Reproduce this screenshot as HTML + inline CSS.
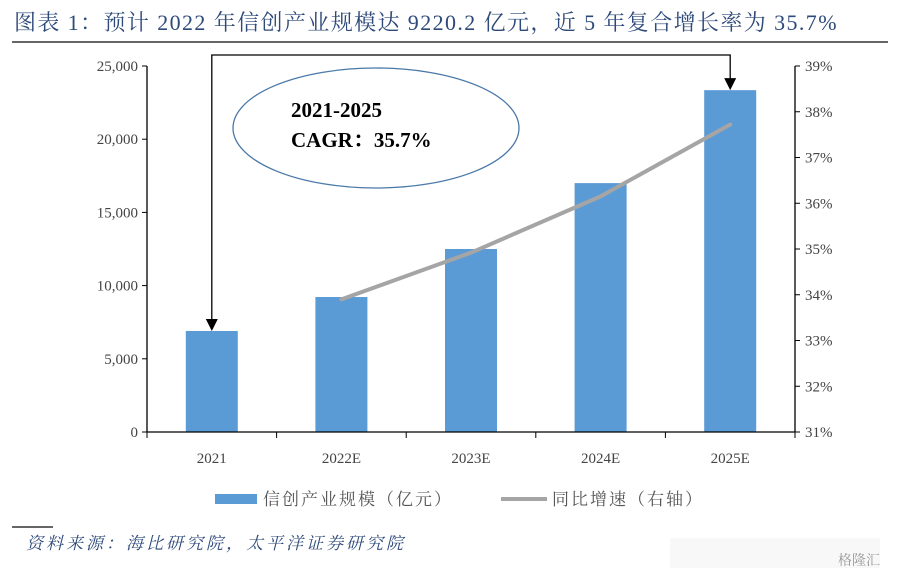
<!DOCTYPE html>
<html><head><meta charset="utf-8"><style>
body{margin:0;background:#fff;width:911px;height:578px;overflow:hidden}
svg text{font-family:"Liberation Serif","Noto Serif CJK SC",serif}
</style></head><body>
<svg width="911" height="578" xmlns="http://www.w3.org/2000/svg" id="chart">
<text x="14" y="30" font-size="22" letter-spacing="1.4" fill="#2e4a7a">图表 1：预计 2022 年信创产业规模达 9220.2 亿元，近 5 年复合增长率为 35.7%</text>
<line x1="12" y1="42" x2="888" y2="42" stroke="#333" stroke-width="1.5"/>
<g id="plot"></g>
<g>
<rect x="215" y="494" width="42" height="10" fill="#5b9bd5"/>
<text x="263" y="505" font-size="17" letter-spacing="2" fill="#555">信创产业规模（亿元）</text>
<line x1="501" y1="499" x2="547" y2="499" stroke="#a5a5a5" stroke-width="4"/>
<text x="552" y="505" font-size="17" letter-spacing="2" fill="#555">同比增速（右轴）</text>
</g>
<line x1="12" y1="527" x2="53" y2="527" stroke="#333" stroke-width="1.5"/>
<text x="26" y="549" font-size="17" letter-spacing="3" font-style="italic" fill="#2e4a7a">资料来源：海比研究院，太平洋证券研究院</text>
<rect x="670" y="538" width="210" height="30" fill="#f4f4f4" opacity="0.6"/>
<text x="838" y="565" font-size="14" fill="#999">格隆汇</text>
</svg>
<script>
const categories=["2021","2022E","2023E","2024E","2025E"];
const scaleValues=[6900,9220,12500,17000,23350];
const growthValues=[null,33.9,34.92,36.15,37.72];
const leftTicks=[0,5000,10000,15000,20000,25000];
const leftTickLabels=["0","5,000","10,000","15,000","20,000","25,000"];
const rightTicks=[31,32,33,34,35,36,37,38,39];
const NS="http://www.w3.org/2000/svg";
const g=document.getElementById('plot');
const X0=147,X1=795,Y0=432,Y1=66;
const yL=v=>Y0-(v/25000)*(Y0-Y1);
const yR=v=>Y0-((v-31)/8)*(Y0-Y1);
const band=(X1-X0)/categories.length;
const xC=i=>X0+band*(i+0.5);
function mk(t,a){const e=document.createElementNS(NS,t);for(const k in a)e.setAttribute(k,a[k]);g.appendChild(e);return e;}
scaleValues.forEach((v,i)=>{const e=mk('rect',{x:xC(i)-26,y:yL(v),width:52,height:Y0-yL(v),fill:'#5b9bd5'});

});
let e=mk('line',{x1:X0,y1:Y1,x2:X0,y2:Y0,stroke:'#000','stroke-width':1.3});


e=mk('line',{x1:X1,y1:Y1,x2:X1,y2:Y0,stroke:'#000','stroke-width':1.3});


e=mk('line',{x1:X0,y1:Y0,x2:X1,y2:Y0,stroke:'#000','stroke-width':1.3});


leftTicks.forEach((v,i)=>{mk('line',{x1:X0-5,y1:yL(v),x2:X0,y2:yL(v),stroke:'#000'});
const t=mk('text',{x:X0-9,y:yL(v)+5,'font-size':15,fill:'#444','text-anchor':'end'});t.textContent=leftTickLabels[i];

});
rightTicks.forEach(v=>{mk('line',{x1:X1,y1:yR(v),x2:X1+5,y2:yR(v),stroke:'#000'});
const t=mk('text',{x:X1+10,y:yR(v)+5,'font-size':15,fill:'#444'});t.textContent=v+'%';

});
for(let i=0;i<=categories.length;i++)mk('line',{x1:X0+band*i,y1:Y0,x2:X0+band*i,y2:Y0+6,stroke:'#000'});
categories.forEach((c,i)=>{const t=mk('text',{x:xC(i),y:Y0+31,'font-size':15,fill:'#444','text-anchor':'middle'});t.textContent=c;

});
const pts=growthValues.map((v,i)=>v==null?null:xC(i)+','+yR(v)).filter(p=>p);
e=mk('polyline',{points:pts.join(' '),fill:'none',stroke:'#a5a5a5','stroke-width':4,'stroke-linecap':'round','stroke-linejoin':'round'});


const xa=xC(0),xb=xC(4);
e=mk('polyline',{points:`${xa},${yL(scaleValues[0])-8} ${xa},55 ${xb},55 ${xb},${yL(scaleValues[4])-8}`,fill:'none',stroke:'#000','stroke-width':1.3});


[[xa,yL(scaleValues[0])],[xb,yL(scaleValues[4])]].forEach(([x,y])=>{mk('polygon',{points:`${x-6},${y-12} ${x+6},${y-12} ${x},${y}`,fill:'#000'});});
e=mk('ellipse',{cx:376,cy:128,rx:143,ry:60,fill:'none',stroke:'#4a78a8','stroke-width':1.3});


let t=mk('text',{x:291,y:117,'font-size':21,'font-weight':'bold',fill:'#000'});t.textContent='2021-2025';


t=mk('text',{x:291,y:147,'font-size':21,'font-weight':'bold',fill:'#000'});t.textContent='CAGR：35.7%';


</script>
</body></html>
